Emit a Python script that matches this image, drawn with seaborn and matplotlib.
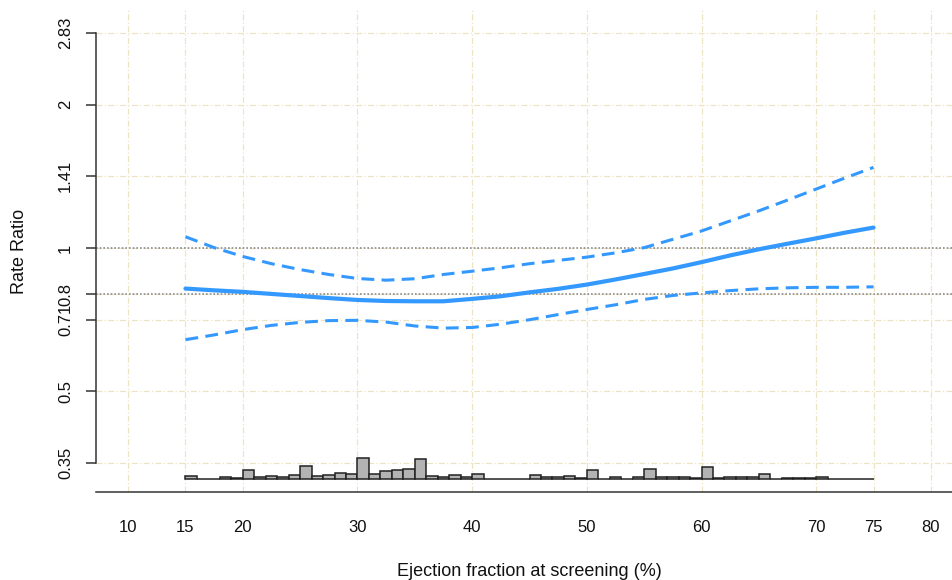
import numpy as np
import pandas as pd
import matplotlib
matplotlib.use("Agg")
import matplotlib.pyplot as plt
from matplotlib.ticker import NullLocator
import seaborn as sns

# ---- data ----
ef = [15, 17.5, 20, 22.5, 25, 27.5, 30, 32.5, 35, 37.5, 40, 42.5, 45, 47.5,
      50, 52.5, 55, 57.5, 60, 62.5, 65, 67.5, 70, 72.5, 75]
rr = [0.822, 0.815, 0.809, 0.801, 0.793, 0.785, 0.778, 0.774, 0.773, 0.773,
      0.782, 0.792, 0.807, 0.821, 0.838, 0.859, 0.882, 0.906, 0.934, 0.965,
      0.994, 1.021, 1.048, 1.077, 1.104]
rr_upper = [1.056, 1.002, 0.960, 0.927, 0.901, 0.880, 0.863, 0.856, 0.862,
            0.880, 0.894, 0.909, 0.927, 0.942, 0.957, 0.977, 1.002, 1.043,
            1.086, 1.140, 1.197, 1.261, 1.330, 1.403, 1.477]
rr_lower = [0.642, 0.657, 0.674, 0.688, 0.698, 0.704, 0.705, 0.699, 0.686,
            0.679, 0.681, 0.692, 0.707, 0.725, 0.743, 0.760, 0.780, 0.795,
            0.805, 0.814, 0.821, 0.825, 0.827, 0.827, 0.829]

# histogram of ejection fraction (relative heights, 1-unit bins 15..74)
hist_bins = list(range(15, 75))
hist_heights = [2.7, 0.5, 0.5, 1.7, 0.7, 9.0, 1.7, 3.0, 2.3, 3.7,
                13.3, 3.0, 4.0, 6.0, 4.7, 20.7, 5.3, 8.0, 8.7, 10.3,
                19.7, 3.0, 2.0, 4.0, 2.3, 5.0, 0.0, 0.0, 0.0, 0.0,
                4.3, 1.7, 1.7, 3.0, 0.7, 8.7, 0.5, 2.3, 0.5, 1.7,
                10.0, 2.3, 2.3, 2.3, 0.7, 11.7, 0.7, 1.7, 1.7, 1.7,
                5.3, 0.3, 0.7, 0.7, 0.7, 2.0, 0.3, 0.3, 0.3, 0.3]

x_ticks = [10, 15, 20, 30, 40, 50, 60, 70, 75, 80]
y_ticks = [0.3536, 0.5, 0.7071, 0.8, 1.0, 1.4142, 2.0, 2.8284]
y_labels = ["0.35", "0.5", "0.71", "0.8", "1", "1.41", "2", "2.83"]
ref_lines = [1.0, 0.8]

# ---- style ----
sns.set_style("white")
plt.rcParams["font.family"] = ["Liberation Sans", "DejaVu Sans"]

W, H = 952, 580
fig = plt.figure(figsize=(W / 100, H / 100), dpi=100)
left, right, top, bottom = 96, 963, 10, 492
ax = fig.add_axes([left / W, (H - bottom) / H, (right - left) / W, (bottom - top) / H])

blue = "#3399ff"
ax.set_yscale("log")
ax.set_xlim(7.2, 82.8)
ax.set_ylim(0.3074, 3.161)

ax.grid(True, which="major", color="#ebe3c2", linestyle=(0, (5, 2, 1, 2)), linewidth=0.85)
ax.set_axisbelow(True)

for r in ref_lines:
    ax.axhline(r, color="#8c8c8c", linestyle=(0, (1, 1.2)), linewidth=1.2, zorder=1)

sns.lineplot(x=ef, y=rr, ax=ax, color=blue, linewidth=3.0, sort=False, zorder=3)
sns.lineplot(x=ef, y=rr_upper, ax=ax, color=blue, linewidth=2.2,
             linestyle=(0, (4.2, 2.4)), sort=False, zorder=3)
sns.lineplot(x=ef, y=rr_lower, ax=ax, color=blue, linewidth=2.2,
             linestyle=(0, (4.2, 2.4)), sort=False, zorder=3)

ax.set_xticks(x_ticks)
ax.set_xticklabels([str(t) for t in x_ticks])
ax.set_yticks(y_ticks)
ax.set_yticklabels(y_labels)
ax.yaxis.set_minor_locator(NullLocator())
ax.xaxis.set_minor_locator(NullLocator())
ax.tick_params(axis="both", direction="out", length=7.5, width=1.1, colors="#333333",
               labelcolor="#111111", labelsize=12)
ax.tick_params(axis="x", pad=13)
ax.tick_params(axis="y", pad=9)
for lab in ax.get_yticklabels():
    lab.set_rotation(90)
    lab.set_va("center")

for s in ["top", "right"]:
    ax.spines[s].set_visible(False)
ax.spines["left"].set_bounds(y_ticks[0], y_ticks[-1])
ax.spines["left"].set_color("#333333")
ax.spines["bottom"].set_color("#333333")
ax.spines["left"].set_linewidth(1.1)
ax.spines["bottom"].set_linewidth(1.1)

ax.set_xlabel("Ejection fraction at screening (%)", fontsize=13, color="#111111", va="center")
ax.xaxis.set_label_coords(0.5, -80 / 482)
ax.set_ylabel("Rate Ratio", fontsize=13, color="#111111", va="center")
ax.yaxis.set_label_coords(-(96 - 20) / 867, 0.5)

# histogram on a twin axis (pixel-like linear units)
hist_df = pd.DataFrame({"ef_mid": [b + 0.5 for b in hist_bins], "height": hist_heights})
ax2 = ax.twinx()
sns.histplot(data=hist_df, x="ef_mid", weights="height",
             bins=60, binrange=(15, 75), ax=ax2, color="#b3b3b3", alpha=1.0,
             edgecolor="#222222", linewidth=1.1, zorder=2)
ax2.set_ylim(-13, 469)
ax2.set_xlim(7.2, 82.8)
ax2.set_yticks([])
ax2.set_ylabel("")
for s in ax2.spines.values():
    s.set_visible(False)

fig.savefig("out.png", dpi=100)
